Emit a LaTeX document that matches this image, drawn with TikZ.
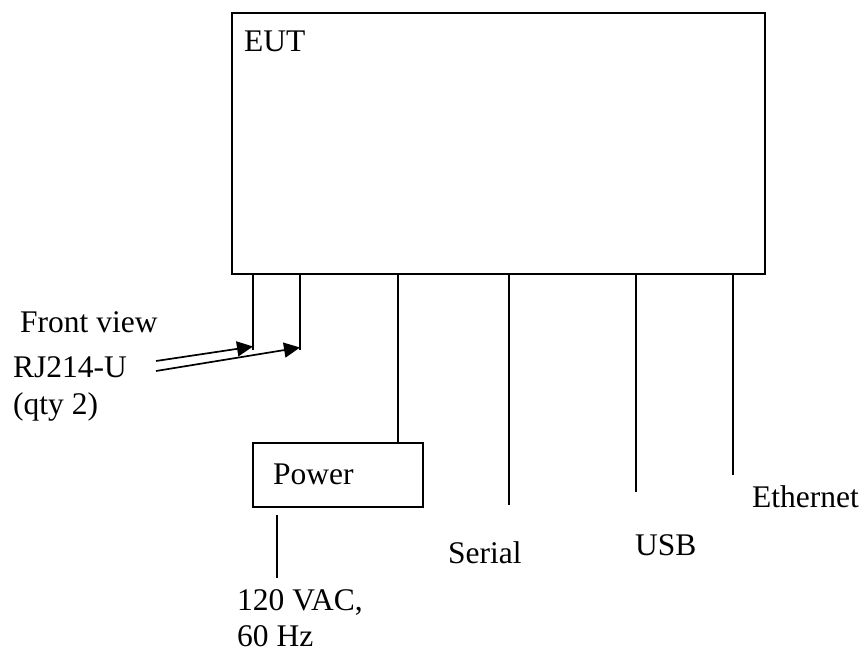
\documentclass[tikz,border=0pt]{standalone}
\usepackage{fontspec}
\setmainfont{Liberation Serif}
\usetikzlibrary{arrows.meta}
\begin{document}
\begin{tikzpicture}[x=1pt,y=-1pt,
  wire/.style={line width=1.7pt},
  boxed/.style={draw,line width=1.7pt,rectangle,inner sep=0pt},
  lbl/.style={anchor=base west,inner sep=0pt,font=\fontsize{31.5}{37}\selectfont},
  tip/.style={-{Triangle[length=16pt,width=15pt]}}]
\useasboundingbox (0,0) rectangle (864,652);
% EUT box
\node[boxed,minimum width=533pt,minimum height=261pt] (eut) at (498.5,143.5) {};
\node[lbl] (eutl) at (244,52) {EUT};
% Power box
\node[boxed,minimum width=170pt,minimum height=64pt] (pwr) at (338,475) {};
\node[lbl] (pwrl) at (273,484) {Power};
% connector coordinates
\coordinate (rj1t) at (253,274); \coordinate (rj1b) at (253,350);
\coordinate (rj2t) at (300,274); \coordinate (rj2b) at (300,350);
\coordinate (pwt) at (398,274); \coordinate (pwb) at (398,443);
\coordinate (sert) at (509,274); \coordinate (serb) at (509,505);
\coordinate (usbt) at (636,274); \coordinate (usbb) at (636,492);
\coordinate (etht) at (733,274); \coordinate (ethb) at (733,475);
\coordinate (act) at (277,515); \coordinate (acb) at (277,578);
\coordinate (a1s) at (156,361); \coordinate (a1e) at (253,346.5);
\coordinate (a2s) at (156,371); \coordinate (a2e) at (300,347.5);
\draw[wire] (rj1t) -- (rj1b);
\draw[wire] (rj2t) -- (rj2b);
\draw[wire] (pwt) -- (pwb);
\draw[wire] (sert) -- (serb);
\draw[wire] (usbt) -- (usbb);
\draw[wire] (etht) -- (ethb);
\draw[wire] (act) -- (acb);
\draw[wire,tip] (a1s) -- (a1e);
\draw[wire,tip] (a2s) -- (a2e);
% labels
\node[lbl] (fv) at (20,332) {Front view};
\node[lbl] (rj) at (13,377) {RJ214-U};
\node[lbl] (qty) at (13,414) {(qty 2)};
\node[lbl] (ser) at (448,563) {Serial};
\node[lbl] (usb) at (635,555) {USB};
\node[lbl] (eth) at (752,507) {Ethernet};
\node[lbl] (ac1) at (237,610) {120 VAC,};
\node[lbl] (ac2) at (237,646) {60 Hz};
\end{tikzpicture}
\end{document}
